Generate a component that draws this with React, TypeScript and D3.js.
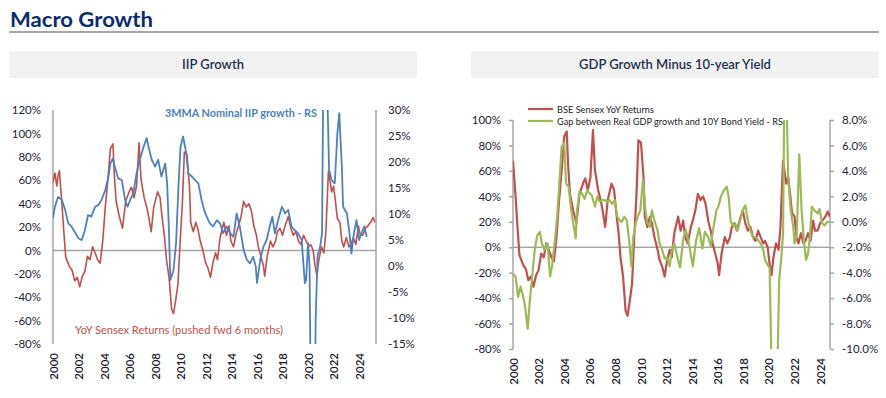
import * as d3 from 'd3';
import { useEffect, useRef } from 'react';

const W = 886;
const H = 398;
const FONT = 'Lato, "Open Sans", sans-serif';

const RED = '#c0504d';
const BLUE = '#4f81bd';
const GREEN = '#9bbb59';

// BSE Sensex YoY returns, % — [decimal year, value]
const sensexYoY: [number, number][] = [
  [1999.5, 58], [1999.65, 66], [1999.8, 55], [1999.9, 64],
  [2000.0, 68], [2000.2, 40], [2000.35, 16], [2000.5, -6], [2000.8, -14], [2001.0, -17],
  [2001.2, -26], [2001.4, -23], [2001.6, -31], [2001.8, -22], [2002.0, -18], [2002.2, -5],
  [2002.4, -8], [2002.6, 3], [2002.8, -2], [2003.0, -8], [2003.2, -11], [2003.4, 8],
  [2003.6, 37], [2003.8, 60], [2004.0, 87], [2004.2, 91], [2004.3, 66], [2004.45, 42],
  [2004.7, 29], [2004.95, 19], [2005.2, 42], [2005.5, 51], [2005.65, 54], [2005.85, 45],
  [2006.05, 55], [2006.25, 92], [2006.4, 61], [2006.65, 45], [2006.85, 37], [2007.0, 29],
  [2007.2, 16], [2007.4, 37], [2007.7, 50], [2007.9, 45], [2008.05, 29], [2008.25, 11],
  [2008.4, -8], [2008.6, -23], [2008.8, -50], [2008.95, -54], [2009.1, -44], [2009.3, -29],
  [2009.45, 3], [2009.65, 42], [2009.8, 84], [2010.0, 82], [2010.2, 55], [2010.3, 24],
  [2010.5, 16], [2010.7, 24], [2010.85, 19], [2011.05, 8], [2011.3, -2], [2011.45, -10],
  [2011.65, -15], [2011.85, -23], [2012.05, -10], [2012.25, -2], [2012.4, -8], [2012.6, 11],
  [2012.9, 24], [2013.1, 13], [2013.3, 21], [2013.45, 8], [2013.65, 3], [2013.9, 16],
  [2014.05, 21], [2014.25, 29], [2014.45, 42], [2014.65, 37], [2014.85, 40], [2015.05, 34],
  [2015.25, 21], [2015.45, 13], [2015.6, 3], [2015.8, -5], [2016.0, -13], [2016.1, -22],
  [2016.3, -5], [2016.55, 8], [2016.75, 3], [2016.95, 8], [2017.1, 16], [2017.3, 19],
  [2017.5, 13], [2017.7, 21], [2017.95, 29], [2018.15, 19], [2018.35, 13], [2018.55, 16],
  [2018.75, 8], [2018.95, 5], [2019.15, 13], [2019.35, 8], [2019.55, 3], [2019.7, 5],
  [2019.9, 0], [2020.05, -13], [2020.2, -22], [2020.35, -8], [2020.55, 3], [2020.75, -2],
  [2020.9, 16], [2021.1, 68], [2021.2, 61], [2021.35, 50], [2021.5, 55], [2021.65, 42],
  [2021.8, 27], [2022.0, 24], [2022.15, 8], [2022.3, 3], [2022.5, 11], [2022.7, 3],
  [2022.85, 5], [2023.05, 11], [2023.25, 5], [2023.45, 21], [2023.6, 13], [2023.8, 13],
  [2024.0, 19], [2024.2, 21], [2024.4, 24], [2024.6, 28], [2024.75, 24],
];

// 3MMA nominal IIP growth, %
const iip3mma: [number, number][] = [
  [2000.0, 9.2], [2000.15, 11.4], [2000.4, 13.3], [2000.7, 12.7], [2000.95, 10.8],
  [2001.2, 8.2], [2001.45, 7.6], [2001.7, 6.6], [2002.0, 5.3], [2002.25, 5.0],
  [2002.5, 6.9], [2002.75, 9.8], [2003.0, 9.5], [2003.3, 11.4], [2003.55, 11.7],
  [2003.8, 12.7], [2004.1, 14.6], [2004.35, 17.2], [2004.5, 19.7], [2004.7, 20.7],
  [2004.85, 19.1], [2005.1, 16.9], [2005.4, 16.5], [2005.65, 12.7], [2005.85, 11.4],
  [2006.05, 12.7], [2006.3, 14.0], [2006.55, 17.8], [2006.8, 20.4], [2007.1, 22.9],
  [2007.35, 24.6], [2007.55, 22.3], [2007.75, 20.4], [2008.0, 19.1], [2008.25, 20.4],
  [2008.5, 17.2], [2008.8, 19.7], [2008.95, 15.9], [2009.1, 6.3], [2009.2, -2.7],
  [2009.45, -0.8], [2009.65, 4.4], [2009.85, 15.9], [2010.0, 22.9], [2010.2, 24.9],
  [2010.45, 21.7], [2010.6, 17.8], [2010.9, 17.2], [2011.15, 16.5], [2011.4, 15.9],
  [2011.65, 12.7], [2011.85, 10.8], [2012.05, 9.5], [2012.3, 8.2], [2012.55, 7.6],
  [2012.85, 8.8], [2013.1, 8.2], [2013.35, 6.3], [2013.6, 7.6], [2013.9, 6.3],
  [2014.15, 5.6], [2014.4, 10.1], [2014.65, 7.6], [2014.95, 3.1], [2015.2, 1.2],
  [2015.45, 0.5], [2015.7, 1.8], [2015.9, -0.1], [2016.0, -3.3], [2016.25, 1.2],
  [2016.5, 3.7], [2016.75, 5.0], [2017.0, 7.6], [2017.2, 9.5], [2017.4, 6.3],
  [2017.65, 8.8], [2017.95, 11.4], [2018.2, 10.1], [2018.45, 10.8], [2018.7, 7.6],
  [2018.95, 6.9], [2019.2, 6.3], [2019.5, 5.0], [2019.75, -3.3], [2019.85, -2.7],
  [2020.0, 4.4], [2020.12, 0], [2020.3, -50], [2020.45, -45], [2020.6, -10],
  [2020.75, 2], [2020.95, 3.7], [2021.1, 6.3], [2021.3, 70], [2021.45, 40],
  [2021.65, 18.5], [2021.85, 16.5], [2022.1, 15.9], [2022.3, 25.5], [2022.45, 29.4],
  [2022.65, 19.1], [2022.75, 11.4], [2023.05, 10.1], [2023.25, 6.3], [2023.4, 2.4],
  [2023.6, 6.3], [2023.8, 8.8], [2024.0, 5.0], [2024.2, 6.3], [2024.4, 7.6], [2024.6, 5.6],
];

// Gap between real GDP growth and 10Y bond yield, %
const gdpYieldGap: [number, number][] = [
  [2000.0, -4.1], [2000.2, -4.3], [2000.4, -5.9], [2000.6, -5.1], [2000.8, -5.9],
  [2000.95, -6.7], [2001.15, -8.4], [2001.3, -6.4], [2001.5, -4.3], [2001.7, -2.2],
  [2001.9, -1.05], [2002.1, -0.8], [2002.25, -1.7], [2002.45, -2.2], [2002.7, -1.7],
  [2002.9, -4.3], [2003.05, -3.5], [2003.25, -1.7], [2003.45, 0.4], [2003.65, 3.5],
  [2003.8, 5.9], [2004.0, 6.2], [2004.15, 3.0], [2004.35, 2.75], [2004.55, 0.9],
  [2004.75, -0.4], [2004.9, -1.3], [2005.0, 0.9], [2005.2, 2.4], [2005.4, 2.2],
  [2005.6, 1.8], [2005.8, 2.5], [2006.0, 2.2], [2006.15, 2.1], [2006.4, 1.2],
  [2006.6, 2.0], [2006.75, 1.6], [2006.95, 1.7], [2007.15, 1.7], [2007.35, 1.6],
  [2007.55, 1.7], [2007.75, 1.4], [2007.95, 1.7], [2008.15, 0.4], [2008.35, 0.1],
  [2008.5, 0.0], [2008.7, 0.4], [2008.9, 0.1], [2009.1, -1.7], [2009.25, -3.5],
  [2009.4, -1.2], [2009.6, -0.1], [2009.75, 0.4], [2009.95, 0.9], [2010.15, 3.3],
  [2010.35, 0.9], [2010.5, -0.1], [2010.7, -0.4], [2010.85, 0.9], [2011.05, 0.1],
  [2011.3, -0.7], [2011.45, -1.7], [2011.65, -2.2], [2011.85, -2.9], [2012.05, -2.8],
  [2012.25, -3.5], [2012.4, -2.2], [2012.6, -1.7], [2012.85, -2.8], [2013.05, -3.6],
  [2013.3, -1.4], [2013.5, -0.6], [2013.8, -2.0], [2014.05, -3.5], [2014.3, -1.5],
  [2014.55, -0.5], [2014.8, -2.1], [2015.0, -0.8], [2015.25, -1.2], [2015.45, -1.9],
  [2015.65, -0.5], [2015.9, 0.9], [2016.05, 1.2], [2016.25, 2.0], [2016.5, 2.5],
  [2016.7, 2.75], [2016.85, 2.0], [2017.0, 0.1], [2017.2, -0.4], [2017.35, -0.1],
  [2017.55, -0.7], [2017.75, 0.1], [2017.95, 0.9], [2018.15, 1.3], [2018.35, 0.1],
  [2018.55, -0.7], [2018.75, -1.2], [2018.95, -1.2], [2019.15, -1.45], [2019.35, -1.7],
  [2019.55, -2.2], [2019.7, -3.0], [2019.9, -3.4], [2020.05, -3.6], [2020.25, -14],
  [2020.45, -16], [2020.65, -12], [2020.8, -4.5], [2020.95, -3.0], [2021.1, -1.0],
  [2021.2, 10], [2021.35, 11], [2021.5, 3.5], [2021.7, 0.9], [2021.9, -0.4],
  [2022.0, -1.7], [2022.17, -1.0], [2022.37, 5.3], [2022.55, 0.9], [2022.75, -1.7],
  [2022.9, -3.0], [2023.05, -2.5], [2023.2, -1.2], [2023.35, 1.2], [2023.55, 0.9],
  [2023.8, 0.65], [2023.95, 1.0], [2024.15, -0.1], [2024.35, -0.3], [2024.55, 0.0],
  [2024.75, 0.0],
];

const yearTicks = [2000, 2002, 2004, 2006, 2008, 2010, 2012, 2014, 2016, 2018, 2020, 2022, 2024];
const iipLeftTicks = [-80, -60, -40, -20, 0, 20, 40, 60, 80, 100, 120];
const iipRightTicks = [-15, -10, -5, 0, 5, 10, 15, 20, 25, 30];
const gdpLeftTicks = [-80, -60, -40, -20, 0, 20, 40, 60, 80, 100];
const gdpRightTicks = [-10, -8, -6, -4, -2, 0, 2, 4, 6, 8];

type Series = { data: [number, number][]; side: 'left' | 'right'; color: string; width: number };

function drawPanel(svg: any, cfg: any) {
  const { bar, title, plot, xDomain, leftDomain, rightDomain, leftTicks, rightTicks,
    leftFmt, rightFmt, series, tickLen, yearY, id } = cfg;

  svg.append('rect')
    .attr('x', bar[0]).attr('y', 51).attr('width', bar[1] - bar[0]).attr('height', 27)
    .attr('fill', '#f2f2f2');
  svg.append('text')
    .attr('x', (bar[0] + bar[1]) / 2).attr('y', 69)
    .attr('text-anchor', 'middle')
    .attr('font-size', 13).attr('font-weight', 600).attr('fill', '#1f2f4a')
    .text(title);

  const x = d3.scaleLinear().domain(xDomain).range([plot.left, plot.right]);
  const yL = d3.scaleLinear().domain(leftDomain).range([plot.bottom, plot.top]);
  const yR = d3.scaleLinear().domain(rightDomain).range([plot.bottom, plot.top]);

  svg.append('clipPath').attr('id', id)
    .append('rect')
    .attr('x', plot.left).attr('y', plot.top)
    .attr('width', plot.right - plot.left).attr('height', plot.bottom - plot.top);

  const leftAxis = svg.append('g')
    .attr('transform', `translate(${plot.left},0)`)
    .call(d3.axisLeft(yL).tickValues(leftTicks).tickFormat(leftFmt).tickSize(tickLen).tickPadding(12 - tickLen));
  const rightAxis = svg.append('g')
    .attr('transform', `translate(${plot.right},0)`)
    .call(d3.axisRight(yR).tickValues(rightTicks).tickFormat(rightFmt).tickSize(tickLen).tickPadding(12 - tickLen));
  [leftAxis, rightAxis].forEach((axis) => {
    axis.attr('font-family', FONT).attr('font-size', 11.5);
    axis.select('.domain').remove();
    axis.selectAll('line').attr('stroke', '#a6a6a6').attr('stroke-width', 1.5);
    axis.selectAll('text').attr('fill', '#1e2433');
  });
  [plot.left, plot.right].forEach((px: number) => {
    svg.append('line')
      .attr('x1', px).attr('x2', px).attr('y1', plot.top).attr('y2', plot.bottom)
      .attr('stroke', '#a6a6a6').attr('stroke-width', 1.5);
  });

  // zero line doubles as the category axis
  svg.append('line')
    .attr('x1', plot.left).attr('x2', plot.right)
    .attr('y1', yL(0)).attr('y2', yL(0))
    .attr('stroke', '#a6a6a6').attr('stroke-width', 1.5);

  const xAxis = svg.append('g')
    .attr('transform', `translate(0,${yearY})`)
    .call(d3.axisBottom(x).tickValues(yearTicks).tickFormat(d3.format('d')).tickSize(0));
  xAxis.select('.domain').remove();
  xAxis.attr('font-family', FONT).attr('font-size', 11.5);
  xAxis.selectAll('text')
    .attr('transform', 'rotate(-90)')
    .attr('x', 0).attr('y', 0).attr('dy', '0.35em')
    .attr('text-anchor', 'end')
    .attr('font-weight', 600)
    .attr('fill', '#1a1a2a');

  const lines = svg.append('g').attr('clip-path', `url(#${id})`);
  series.forEach((s: Series) => {
    const yScale = s.side === 'left' ? yL : yR;
    const line = d3.line<[number, number]>()
      .x((d) => x(d[0]))
      .y((d) => yScale(d[1]));
    lines.append('path')
      .datum(s.data)
      .attr('d', line)
      .attr('fill', 'none')
      .attr('stroke', s.color)
      .attr('stroke-width', s.width)
      .attr('stroke-linejoin', 'round');
  });
}

export default function App() {
  const ref = useRef<SVGSVGElement>(null);

  useEffect(() => {
    const svg = d3.select(ref.current);
    svg.selectAll('*').remove();
    svg.attr('width', W).attr('height', H).attr('font-family', FONT);

    svg.append('rect').attr('width', W).attr('height', H).attr('fill', '#fff');

    svg.append('text')
      .attr('x', 10).attr('y', 27)
      .attr('font-size', 20).attr('font-weight', 700).attr('fill', '#0c2a6e')
      .attr('textLength', 143).attr('lengthAdjust', 'spacingAndGlyphs')
      .text('Macro Growth');
    svg.append('line')
      .attr('x1', 9).attr('x2', 879).attr('y1', 32).attr('y2', 32)
      .attr('stroke', '#a6a6a6').attr('stroke-width', 2);

    const pct = (d: number) => `${d}%`;
    const pct1 = (d: number) => `${d.toFixed(1)}%`;

    // left panel: IIP growth vs Sensex pushed forward 6 months
    drawPanel(svg, {
      id: 'clip-iip',
      bar: [9, 417],
      title: 'IIP Growth',
      plot: { left: 53, right: 376, top: 110, bottom: 344 },
      xDomain: [2000, 2025.33],
      leftDomain: [-80, 120],
      rightDomain: [-15, 30],
      leftTicks: iipLeftTicks,
      rightTicks: iipRightTicks,
      leftFmt: pct,
      rightFmt: pct,
      tickLen: 0,
      yearY: 353,
      series: [
        { data: sensexYoY.map(([t, v]) => [t + 0.5, v]), side: 'left', color: RED, width: 1.6 },
        { data: iip3mma, side: 'right', color: BLUE, width: 1.8 },
      ],
    });

    svg.append('text')
      .attr('x', 165).attr('y', 117)
      .attr('font-size', 12).attr('font-weight', 700).attr('fill', BLUE)
      .attr('textLength', 152).attr('lengthAdjust', 'spacingAndGlyphs')
      .text('3MMA Nominal IIP growth - RS');
    svg.append('text')
      .attr('x', 75).attr('y', 334)
      .attr('font-size', 12).attr('fill', RED)
      .attr('textLength', 208).attr('lengthAdjust', 'spacingAndGlyphs')
      .text('YoY Sensex Returns (pushed fwd 6 months)');

    // right panel: Sensex vs GDP growth minus 10Y yield
    drawPanel(svg, {
      id: 'clip-gdp',
      bar: [471, 879],
      title: 'GDP Growth Minus 10-year Yield',
      plot: { left: 513, right: 830, top: 120, bottom: 349 },
      xDomain: [2000, 2024.77],
      leftDomain: [-80, 100],
      rightDomain: [-10, 8],
      leftTicks: gdpLeftTicks,
      rightTicks: gdpRightTicks,
      leftFmt: pct,
      rightFmt: pct1,
      tickLen: 4,
      yearY: 358,
      series: [
        { data: sensexYoY.filter(([t]) => t >= 2000), side: 'left', color: RED, width: 2.2 },
        { data: gdpYieldGap, side: 'right', color: GREEN, width: 2.2 },
      ],
    });

    const legendItems = [
      { label: 'BSE Sensex YoY Returns', color: RED, width: 97 },
      { label: 'Gap between Real GDP growth and 10Y Bond Yield - RS', color: GREEN, width: 226 },
    ];
    legendItems.forEach((item, i) => {
      const y = 109 + i * 12;
      svg.append('line')
        .attr('x1', 528).attr('x2', 553).attr('y1', y).attr('y2', y)
        .attr('stroke', item.color).attr('stroke-width', 2.2);
      svg.append('text')
        .attr('x', 557).attr('y', y).attr('dy', '0.35em')
        .attr('font-size', 10).attr('fill', '#222')
        .attr('textLength', item.width).attr('lengthAdjust', 'spacingAndGlyphs')
        .text(item.label);
    });
  }, []);

  return <svg ref={ref} style={{ position: 'absolute', left: 0, top: 0 }} />;
}
